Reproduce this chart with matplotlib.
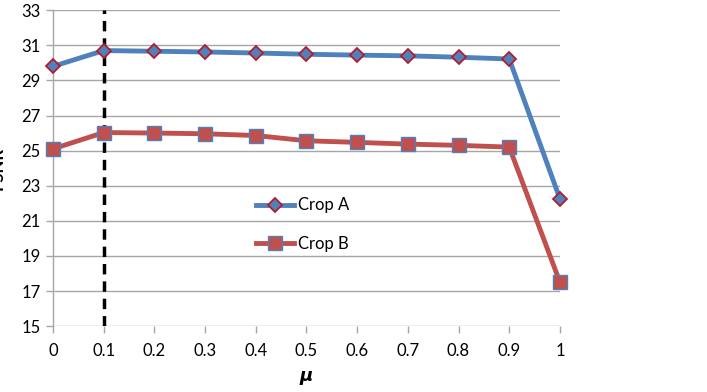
import numpy as np
import matplotlib
matplotlib.use("Agg")
import matplotlib.pyplot as plt

plt.rcParams['font.family'] = ['Lato', 'DejaVu Sans']

# data
mu = [0, 0.1, 0.2, 0.3, 0.4, 0.5, 0.6, 0.7, 0.8, 0.9, 1.0]
crop_a = [29.8, 30.7, 30.66, 30.62, 30.56, 30.49, 30.44, 30.4, 30.32, 30.22, 22.25]
crop_b = [25.1, 26.03, 26.0, 25.96, 25.86, 25.56, 25.47, 25.37, 25.3, 25.2, 17.5]
chosen_mu = 0.1

x_ticks = np.round(np.arange(0, 1.01, 0.1), 1)
x_tick_labels = ["0", "0.1", "0.2", "0.3", "0.4", "0.5", "0.6", "0.7", "0.8", "0.9", "1"]
y_ticks = list(range(15, 34, 2))

BLUE = "#4F81BD"
RED = "#C0504D"
GRID = "#A6A6A6"

fig = plt.figure(figsize=(7.07, 3.92), dpi=100)
ax = fig.add_axes([0.075, 0.168, 0.717, 0.806])

for y in y_ticks:
    ax.axhline(y, color=GRID, lw=1.0, zorder=0)

ax.axvline(chosen_mu, color="black", lw=2.5, ls=(0, (3, 2)), zorder=2)

ax.plot(mu, crop_a, color=BLUE, lw=3.5, marker="D", ms=7.5,
        mfc=BLUE, mec="#B01E2E", mew=1.3, label="Crop A", clip_on=False, zorder=3)
ax.plot(mu, crop_b, color=RED, lw=3.5, marker="s", ms=10,
        mfc=RED, mec=BLUE, mew=1.0, label="Crop B", clip_on=False, zorder=3)

ax.set_xlim(0, 1)
ax.set_ylim(15, 33)
ax.set_xticks(x_ticks)
ax.set_xticklabels(x_tick_labels)
ax.set_yticks(y_ticks)

for s in ["top", "right", "bottom"]:
    ax.spines[s].set_visible(False)
ax.spines["left"].set_color(GRID)
ax.spines["left"].set_linewidth(1.0)

ax.tick_params(axis="both", colors=GRID, labelcolor="black", labelsize=12,
               length=5, width=1.0, direction="out")
ax.tick_params(axis="x", pad=7)
ax.tick_params(axis="y", pad=4)

ax.set_xlabel("μ", fontsize=13, fontweight="bold", style="italic",
              family=["DejaVu Sans"], labelpad=6)
ax.set_ylabel("PSNR", fontsize=12, fontweight="bold")
ax.yaxis.set_label_coords(-0.094, 0.5)

ax.legend(loc="upper left", bbox_to_anchor=(0.37, 0.455), frameon=False,
          fontsize=12, handlelength=2.3, labelspacing=1.35, handletextpad=0.25)

fig.savefig("out.png", dpi=100)
